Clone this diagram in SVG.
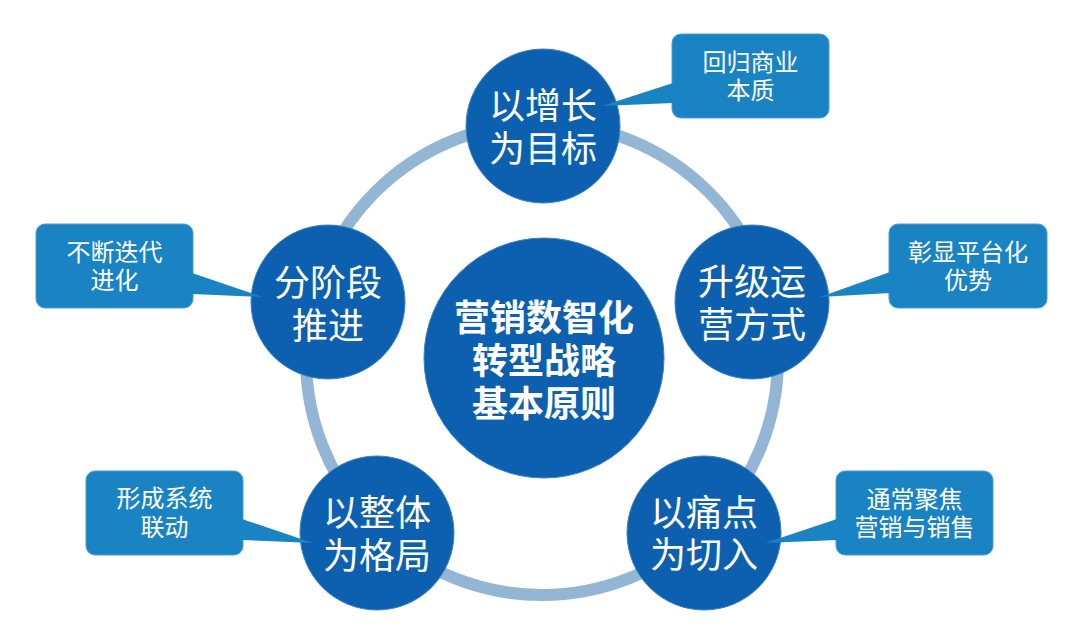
<svg xmlns="http://www.w3.org/2000/svg" width="1080" height="639" viewBox="0 0 1080 639">
<style>
.node{fill:#0c60af;stroke:#3d82c2;stroke-width:1}
.call{fill:#1a83c3;stroke:#4a9fd3;stroke-width:1}
.tail{fill:#1a83c3}
.t{font-family:"Noto Sans CJK SC","Noto Sans",sans-serif;fill:#ffffff;text-anchor:middle}
.nt{font-size:36px;font-weight:400}
.ct{font-size:36px;font-weight:700}
.ft{font-size:24px;font-weight:400}
</style>
<rect width="1080" height="639" fill="#ffffff"/>
<g id="connectors">
<circle cx="542" cy="359" r="236" fill="none" stroke="#93b6d4" stroke-width="12"/>
</g>
<g id="center">
<circle class="node" cx="544" cy="358" r="120"/>
<text class="t ct" x="544" y="331">营销数智化</text>
<text class="t ct" x="544" y="374">转型战略</text>
<text class="t ct" x="544" y="417">基本原则</text>
</g>
<g id="n-top">
<circle class="node" cx="543" cy="126" r="77"/>
<text class="t nt" x="543" y="119">以增长</text>
<text class="t nt" x="543" y="162">为目标</text>
</g>
<g id="n-right">
<circle class="node" cx="752" cy="302" r="77"/>
<text class="t nt" x="752" y="295">升级运</text>
<text class="t nt" x="752" y="338">营方式</text>
</g>
<g id="n-bright">
<circle class="node" cx="704" cy="533" r="77"/>
<text class="t nt" x="704" y="526">以痛点</text>
<text class="t nt" x="704" y="568">为切入</text>
</g>
<g id="n-bleft">
<circle class="node" cx="377" cy="533" r="77"/>
<text class="t nt" x="377" y="526">以整体</text>
<text class="t nt" x="377" y="569">为格局</text>
</g>
<g id="n-left">
<circle class="node" cx="328" cy="302" r="77"/>
<text class="t nt" x="328" y="296">分阶段</text>
<text class="t nt" x="328" y="339">推进</text>
</g>
<g id="c-top">
<rect class="call" x="672" y="34" width="157" height="84" rx="9"/>
<polygon class="tail" points="673,83 673,103 602,106"/>
<text class="t ft" x="750.5" y="71">回归商业</text>
<text class="t ft" x="750.5" y="99">本质</text>
</g>
<g id="c-right">
<rect class="call" x="889" y="224" width="158" height="84" rx="9"/>
<polygon class="tail" points="890,272 890,293 820,297"/>
<text class="t ft" x="968" y="261">彰显平台化</text>
<text class="t ft" x="968" y="289">优势</text>
</g>
<g id="c-bright">
<rect class="call" x="836" y="471" width="157" height="84" rx="9"/>
<polygon class="tail" points="837,519 837,540 765,543"/>
<text class="t ft" x="914.5" y="508">通常聚焦</text>
<text class="t ft" x="914.5" y="536">营销与销售</text>
</g>
<g id="c-bleft">
<rect class="call" x="86" y="471" width="157" height="84" rx="9"/>
<polygon class="tail" points="242,519 242,540 313,543"/>
<text class="t ft" x="164.5" y="507">形成系统</text>
<text class="t ft" x="164.5" y="536">联动</text>
</g>
<g id="c-left">
<rect class="call" x="36" y="224" width="157" height="84" rx="9"/>
<polygon class="tail" points="192,273 192,294 263,297"/>
<text class="t ft" x="114.5" y="261">不断迭代</text>
<text class="t ft" x="114.5" y="289">进化</text>
</g>
</svg>
